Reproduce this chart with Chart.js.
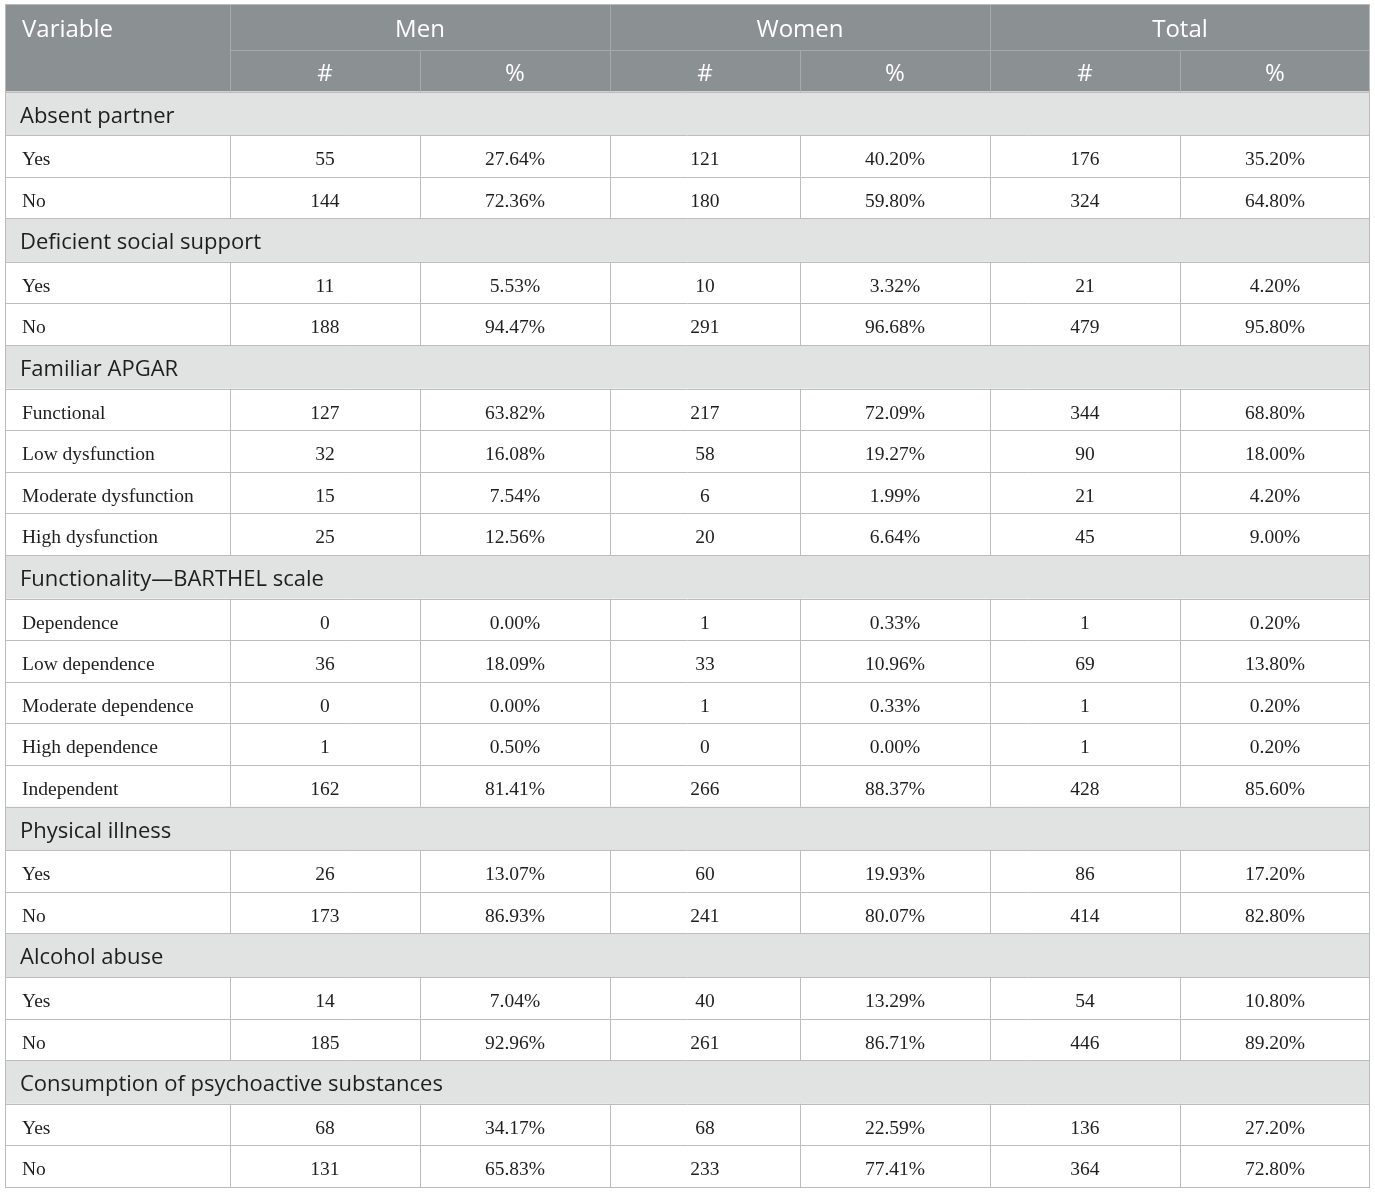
<!DOCTYPE html>
<html lang="en">
<head>
    <meta charset="UTF-8">
    <title>Social and family variables by sex</title>
    <style>
        html, body {
            margin: 0;
            padding: 0;
            background: #fff;
        }
        #wrap {
            width: 1375px;
            height: 1192px;
            position: relative;
        }
    </style>
    <script src="https://cdn.jsdelivr.net/npm/chart.js"></script>
</head>
<body>
    <div id="wrap">
        <canvas id="tableChart"></canvas>
    </div>

    <script>
        const groups = ['Men', 'Women', 'Total'];
        const subHeaders = ['#', '%'];
        const firstHeader = 'Variable';

        const sections = [
            'Absent partner',
            'Deficient social support',
            'Familiar APGAR',
            'Functionality\u2014BARTHEL scale',
            'Physical illness',
            'Alcohol abuse',
            'Consumption of psychoactive substances'
        ];
        const sectionItems = [
            ['Yes', 'No'],
            ['Yes', 'No'],
            ['Functional', 'Low dysfunction', 'Moderate dysfunction', 'High dysfunction'],
            ['Dependence', 'Low dependence', 'Moderate dependence', 'High dependence', 'Independent'],
            ['Yes', 'No'],
            ['Yes', 'No'],
            ['Yes', 'No']
        ];

        const menCount = [[55, 144], [11, 188], [127, 32, 15, 25], [0, 36, 0, 1, 162], [26, 173], [14, 185], [68, 131]];
        const menPct = [[27.64, 72.36], [5.53, 94.47], [63.82, 16.08, 7.54, 12.56], [0.00, 18.09, 0.00, 0.50, 81.41], [13.07, 86.93], [7.04, 92.96], [34.17, 65.83]];
        const womenCount = [[121, 180], [10, 291], [217, 58, 6, 20], [1, 33, 1, 0, 266], [60, 241], [40, 261], [68, 233]];
        const womenPct = [[40.20, 59.80], [3.32, 96.68], [72.09, 19.27, 1.99, 6.64], [0.33, 10.96, 0.33, 0.00, 88.37], [19.93, 80.07], [13.29, 86.71], [22.59, 77.41]];
        const totalCount = [[176, 324], [21, 479], [344, 90, 21, 45], [1, 69, 1, 1, 428], [86, 414], [54, 446], [136, 364]];
        const totalPct = [[35.20, 64.80], [4.20, 95.80], [68.80, 18.00, 4.20, 9.00], [0.20, 13.80, 0.20, 0.20, 85.60], [17.20, 82.80], [10.80, 89.20], [27.20, 72.80]];

        // ---- layout (relative units, mapped through the chart scales) ----
        const COL_UNITS = [1.184, 1, 1, 1, 1, 1, 1];
        const ROW_UNITS = { head1: 46, head2: 41.5, section: 43.5, item: 41.6 };

        const SANS = '"Open Sans", "Noto Sans", sans-serif';
        const SERIF = '"Liberation Serif", "DejaVu Serif", serif';

        // flat row list built from the arrays
        const rows = [{ kind: 'head1' }, { kind: 'head2' }];
        sections.forEach((label, s) => {
            rows.push({ kind: 'section', label: label });
            sectionItems[s].forEach((item, i) => {
                rows.push({
                    kind: 'item',
                    label: item,
                    cells: [
                        String(menCount[s][i]), menPct[s][i].toFixed(2) + '%',
                        String(womenCount[s][i]), womenPct[s][i].toFixed(2) + '%',
                        String(totalCount[s][i]), totalPct[s][i].toFixed(2) + '%'
                    ]
                });
            });
        });

        const colEdges = [0];
        COL_UNITS.forEach(w => colEdges.push(colEdges[colEdges.length - 1] + w));
        const rowEdges = [0];
        rows.forEach(r => rowEdges.push(rowEdges[rowEdges.length - 1] + ROW_UNITS[r.kind]));

        const tablePlugin = {
            id: 'tablePlugin',
            afterDraw(chart) {
                const ctx = chart.ctx;
                const xs = chart.scales.x;
                const ys = chart.scales.y;
                const X = v => xs.getPixelForValue(v);
                const Y = v => ys.getPixelForValue(v);
                const crisp = p => Math.round(p) + 0.5;
                const nCols = colEdges.length - 1;
                const left = X(0), right = X(colEdges[nCols]);

                ctx.save();

                // header background
                ctx.fillStyle = '#8b9093';
                ctx.fillRect(left, Y(0), right - left, Y(rowEdges[2]) - Y(0));

                // section backgrounds
                rows.forEach((r, k) => {
                    if (r.kind === 'section') {
                        ctx.fillStyle = '#e1e2e2';
                        ctx.fillRect(left, Y(rowEdges[k]), right - left, Y(rowEdges[k + 1]) - Y(rowEdges[k]));
                    }
                });

                // header grid
                ctx.lineWidth = 1;
                ctx.strokeStyle = '#a6aaac';
                ctx.beginPath();
                ctx.moveTo(X(colEdges[1]), crisp(Y(rowEdges[1])));
                ctx.lineTo(right, crisp(Y(rowEdges[1])));
                for (let c = 1; c < nCols; c++) {
                    const full = (c % 2 === 1);
                    ctx.moveTo(crisp(X(colEdges[c])), full ? Y(0) : Y(rowEdges[1]));
                    ctx.lineTo(crisp(X(colEdges[c])), Y(rowEdges[2]));
                }
                ctx.stroke();

                // body grid
                ctx.strokeStyle = '#bdbdbd';
                ctx.beginPath();
                for (let k = 2; k <= rows.length; k++) {
                    ctx.moveTo(left, crisp(Y(rowEdges[k])));
                    ctx.lineTo(right, crisp(Y(rowEdges[k])));
                }
                rows.forEach((r, k) => {
                    if (r.kind !== 'item') return;
                    for (let c = 1; c < nCols; c++) {
                        ctx.moveTo(crisp(X(colEdges[c])), Y(rowEdges[k]));
                        ctx.lineTo(crisp(X(colEdges[c])), Y(rowEdges[k + 1]));
                    }
                });
                ctx.stroke();

                // outer border
                ctx.strokeStyle = '#b9bcbd';
                ctx.strokeRect(crisp(left), crisp(Y(0)), Math.round(right - left) - 1, Math.round(Y(rowEdges[rows.length]) - Y(0)));

                // text
                ctx.textBaseline = 'middle';
                const mid = k => (Y(rowEdges[k]) + Y(rowEdges[k + 1])) / 2;
                const cMid = c => (X(colEdges[c]) + X(colEdges[c + 1])) / 2;

                // header text
                ctx.fillStyle = '#ffffff';
                ctx.font = '24px ' + SANS;
                ctx.textAlign = 'left';
                ctx.fillText(firstHeader, left + 17, mid(0) + 3);
                ctx.textAlign = 'center';
                groups.forEach((g, i) => {
                    const c0 = 1 + i * 2;
                    ctx.fillText(g, (X(colEdges[c0]) + X(colEdges[c0 + 2])) / 2, mid(0) + 3);
                    subHeaders.forEach((h, j) => {
                        ctx.fillText(h, cMid(c0 + j), mid(1) + 3);
                    });
                });

                rows.forEach((r, k) => {
                    if (r.kind === 'section') {
                        ctx.fillStyle = '#1e1e1e';
                        ctx.font = '22px ' + SANS;
                        ctx.textAlign = 'left';
                        ctx.fillText(r.label, left + 15, mid(k) + 3);
                    } else if (r.kind === 'item') {
                        ctx.fillStyle = '#1e1e1e';
                        ctx.font = '19.5px ' + SERIF;
                        ctx.textAlign = 'left';
                        ctx.fillText(r.label, left + 17, mid(k) + 4);
                        ctx.textAlign = 'center';
                        r.cells.forEach((t, j) => {
                            ctx.fillText(t, cMid(j + 1), mid(k) + 4);
                        });
                    }
                });

                ctx.restore();
            }
        };

        document.addEventListener('DOMContentLoaded', () => {
            const ctx = document.getElementById('tableChart').getContext('2d');
            new Chart(ctx, {
                type: 'scatter',
                data: { datasets: [{ data: [] }] },
                options: {
                    responsive: true,
                    maintainAspectRatio: false,
                    animation: false,
                    events: [],
                    layout: { padding: { left: 5, right: 5, top: 4, bottom: 5 } },
                    plugins: {
                        legend: { display: false },
                        tooltip: { enabled: false }
                    },
                    scales: {
                        x: { type: 'linear', min: 0, max: colEdges[colEdges.length - 1], display: false },
                        y: { type: 'linear', min: 0, max: rowEdges[rowEdges.length - 1], reverse: true, display: false }
                    }
                },
                plugins: [tablePlugin]
            });
        });
    </script>
</body>
</html>
